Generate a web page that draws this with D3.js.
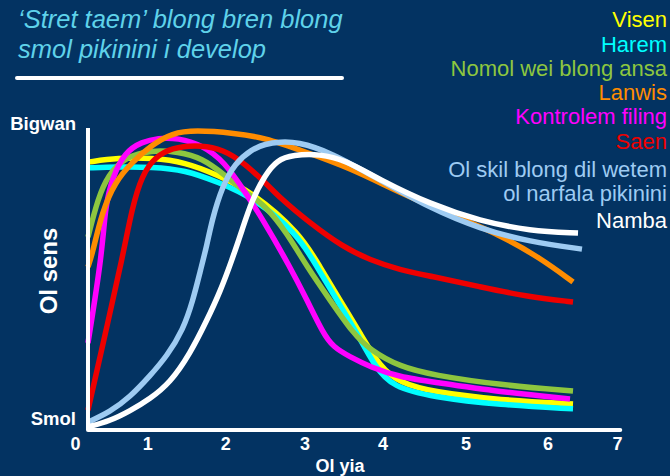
<!DOCTYPE html>
<html>
<head>
<meta charset="utf-8">
<script src="https://cdn.jsdelivr.net/npm/d3@7"></script>
<style>
  body { margin: 0; background: #033362; }
  svg { display: block; font-family: "Liberation Sans", Arial, sans-serif; }
</style>
</head>
<body>
<svg id="chart" width="670" height="476"></svg>
<script>
// title + axis text
var titleLines = ["\u2018Stret taem\u2019 blong bren blong", "smol pikinini i develop"];
var yearTicks = [0, 1, 2, 3, 4, 5, 6, 7];
var yLabels = ["Smol", "Bigwan"];

// legend names (Ol skil... is split on two lines)
var seriesNames = ["Visen", "Harem", "Nomol wei blong ansa", "Lanwis", "Kontrolem filing", "Saen",
  ["Ol skil blong dil wetem", "ol narfala pikinini"], "Namba"];
var seriesColors = ["#ffff00", "#00ffff", "#8dc63f", "#ff8c00", "#ff00ff", "#ee0000", "#9ecbf2", "#ffffff"];

// [year, sensitivity 0..1]
var visen = [[0.173,0.887],[0.589,0.901],[1.055,0.901],[1.478,0.887],[1.901,0.844],[2.332,0.788],
  [2.937,0.652],[3.192,0.540],[3.449,0.430],[3.705,0.321],[3.962,0.209],[4.205,0.156],[4.602,0.126],
  [5.415,0.099],[6.360,0.086]];
var harem = [[0.173,0.868],[0.589,0.871],[1.055,0.871],[1.478,0.861],[1.901,0.821],[2.332,0.772],
  [2.899,0.652],[3.154,0.540],[3.410,0.430],[3.667,0.321],[3.897,0.209],[4.120,0.142],[4.602,0.109],
  [5.415,0.083],[6.360,0.070]];
var nomol = [[0.173,0.639],[0.312,0.768],[0.450,0.844],[0.686,0.904],[1.055,0.927],[1.388,0.921],
  [1.696,0.901],[1.991,0.844],[2.243,0.788],[2.496,0.745],[2.773,0.652],[3.026,0.540],[3.321,0.430],
  [3.615,0.321],[3.833,0.265],[4.205,0.209],[4.602,0.182],[5.415,0.149],[6.360,0.129]];
var lanwis = [[0.173,0.540],[0.229,0.579],[0.367,0.722],[0.547,0.821],[0.783,0.887],[1.055,0.944],
  [1.312,0.983],[1.606,0.993],[2.117,0.983],[2.496,0.967],[2.937,0.927],[3.577,0.868],[4.205,0.785],
  [4.807,0.715],[5.415,0.646],[5.902,0.570],[6.360,0.490]];
var kontrolem = [[0.173,0.288],[0.367,0.579],[0.409,0.735],[0.506,0.834],[0.686,0.921],[0.921,0.954],
  [1.132,0.967],[1.388,0.967],[1.696,0.944],[1.991,0.887],[2.243,0.788],[2.458,0.702],[2.811,0.540],
  [3.026,0.430],[3.231,0.321],[3.359,0.275],[3.577,0.242],[3.833,0.209],[4.205,0.175],[4.602,0.159],
  [5.415,0.126],[6.317,0.103]];
var saen = [[0.173,0.066],[0.409,0.315],[0.658,0.579],[0.783,0.735],[0.921,0.844],[1.094,0.904],
  [1.312,0.934],[1.606,0.944],[1.901,0.934],[2.155,0.901],[2.496,0.821],[2.685,0.768],[3.064,0.685],
  [3.487,0.606],[3.833,0.563],[4.205,0.530],[4.566,0.510],[5.171,0.474],[5.780,0.440],[6.360,0.424]];
var olSkil = [[0.173,0.026],[0.478,0.060],[0.755,0.109],[1.029,0.179],[1.247,0.245],[1.453,0.331],
  [1.581,0.430],[1.671,0.523],[1.760,0.613],[1.824,0.695],[1.953,0.805],[2.117,0.884],[2.332,0.930],
  [2.496,0.947],[2.685,0.954],[2.899,0.954],[3.321,0.921],[3.962,0.828],[4.566,0.735],[5.171,0.666],
  [5.780,0.623],[6.489,0.599]];
var namba = [[0.173,0.010],[0.478,0.030],[0.755,0.063],[1.029,0.103],[1.286,0.156],[1.542,0.252],
  [1.760,0.364],[1.927,0.457],[2.079,0.563],[2.206,0.662],[2.332,0.762],[2.496,0.844],[2.647,0.894],
  [2.849,0.911],[3.192,0.914],[3.513,0.894],[3.962,0.828],[4.566,0.748],[5.171,0.692],[5.780,0.659],
  [6.432,0.652]];

var allSeries = [visen, harem, nomol, lanwis, kontrolem, saen, olSkil, namba];
// back to front
var drawOrder = [0, 1, 2, 4, 3, 5, 6, 7];

var svg = d3.select("#chart");

svg.append("rect").attr("width", 670).attr("height", 476).attr("fill", "#033362");

// year labels on the slide are not evenly spaced, so map them piecewise
var x = d3.scaleLinear().domain(yearTicks).range([75.5, 147.7, 225.7, 305, 383, 466, 548, 617.5]);
var y = d3.scaleLinear().domain([0, 1]).range([430, 128]);
var axisStart = 0.173;

// title
svg.append("g").selectAll("text")
  .data(titleLines)
  .enter().append("text")
  .attr("x", 18)
  .attr("y", function (d, i) { return 28 + i * 30; })
  .attr("fill", "#5fd2ea")
  .style("font-size", "25.5px")
  .style("font-style", "italic")
  .text(function (d) { return d; });

svg.append("line")
  .attr("x1", 17).attr("x2", 342)
  .attr("y1", 78).attr("y2", 78)
  .style("stroke", "white")
  .style("stroke-width", 4)
  .style("stroke-linecap", "round");

// legend, right aligned
var legendY = [27, 52, 76, 100, 124, 149, 177, 228];
var legend = svg.append("g").attr("text-anchor", "end").style("font-size", "22px");
seriesNames.forEach(function (name, i) {
  var lines = Array.isArray(name) ? name : [name];
  lines.forEach(function (t, j) {
    legend.append("text")
      .attr("x", 667)
      .attr("y", legendY[i] + j * 24)
      .attr("fill", seriesColors[i])
      .text(t);
  });
});

// curves - hand drawn on the slide, so smooth them with a basis spline
var line = d3.line()
  .x(function (d) { return x(d[0]); })
  .y(function (d) { return y(d[1]); })
  .curve(d3.curveBasis);

drawOrder.forEach(function (i) {
  svg.append("path")
    .datum(allSeries[i])
    .attr("d", line)
    .style("fill", "none")
    .style("stroke", seriesColors[i])
    .style("stroke-width", 5.5);
});

// axes
svg.append("line")
  .attr("x1", x(axisStart)).attr("x2", x(axisStart))
  .attr("y1", y(1)).attr("y2", y(0))
  .style("stroke", "white").style("stroke-width", 4);
svg.append("line")
  .attr("x1", x(axisStart)).attr("x2", x(7.04))
  .attr("y1", y(0)).attr("y2", y(0))
  .style("stroke", "white").style("stroke-width", 4)
  .style("stroke-linecap", "round");

// x tick labels
svg.append("g").selectAll("text")
  .data(yearTicks)
  .enter().append("text")
  .attr("x", function (d) { return x(d); })
  .attr("y", 450)
  .attr("text-anchor", "middle")
  .attr("fill", "white")
  .style("font-size", "18px")
  .style("font-weight", "bold")
  .text(function (d) { return d; });

svg.append("text")
  .attr("x", 340).attr("y", 472)
  .attr("text-anchor", "middle")
  .attr("fill", "white")
  .style("font-size", "18px")
  .style("font-weight", "bold")
  .text("Ol yia");

// y labels
svg.append("g").selectAll("text")
  .data(yLabels)
  .enter().append("text")
  .attr("x", 76)
  .attr("y", function (d, i) { return y(i) + (i ? 2 : -5); })
  .attr("text-anchor", "end")
  .attr("fill", "white")
  .style("font-size", "18.5px")
  .style("font-weight", "bold")
  .text(function (d) { return d; });

svg.append("text")
  .attr("transform", "translate(57,271) rotate(-90)")
  .attr("text-anchor", "middle")
  .attr("fill", "white")
  .style("font-size", "24px")
  .style("font-weight", "bold")
  .text("Ol sens");
</script>
</body>
</html>
